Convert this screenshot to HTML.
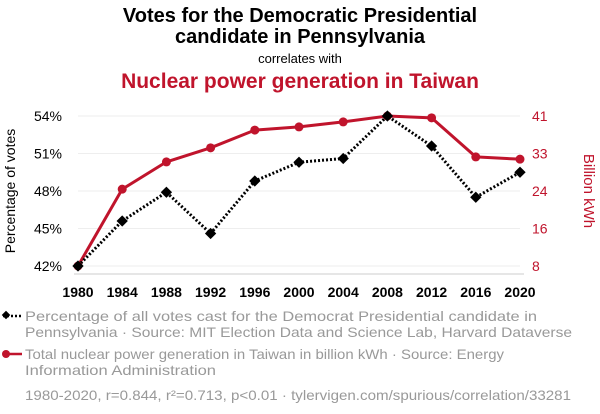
<!DOCTYPE html>
<html><head><meta charset="utf-8"><style>
body{margin:0;background:#fff;font-family:"Liberation Sans",sans-serif;}
svg{display:block}
</style></head><body>
<svg id="c" width="600" height="414" font-family="Liberation Sans, sans-serif">
<text x="300" y="22" text-anchor="middle" font-size="20" font-weight="bold">Votes for the Democratic Presidential</text>
<text x="300" y="43" text-anchor="middle" font-size="20" font-weight="bold">candidate in Pennsylvania</text>
<text x="300" y="63" text-anchor="middle" font-size="13">correlates with</text>
<text x="300" y="88" text-anchor="middle" font-size="21" font-weight="bold" fill="#c0142c">Nuclear power generation in Taiwan</text>
<text transform="translate(15,191) rotate(-90)" text-anchor="middle" font-size="14">Percentage of votes</text>
<text transform="translate(584,191) rotate(90)" text-anchor="middle" font-size="15" fill="#c0142c">Billion kWh</text>
<g id="grid"></g><g id="axes"></g><g id="marks"></g>
<g>
<line x1="3" y1="316" x2="22" y2="316" stroke="#000" stroke-width="2.5" stroke-dasharray="2,2"/>
<rect x="3" y="312" width="6" height="6" transform="rotate(45 6 315)" fill="#000"/>
<text x="25" y="321" font-size="14" fill="#999" textLength="512" lengthAdjust="spacingAndGlyphs">Percentage of all votes cast for the Democrat Presidential candidate in</text>
<text x="25" y="337" font-size="14" fill="#999" textLength="547" lengthAdjust="spacingAndGlyphs">Pennsylvania · Source: MIT Election Data and Science Lab, Harvard Dataverse</text>
</g>
<g>
<line x1="3" y1="354" x2="22" y2="354" stroke="#c0142c" stroke-width="2.5"/>
<circle cx="6" cy="354" r="4" fill="#c0142c"/>
<text x="25" y="359" font-size="14" fill="#999" textLength="479" lengthAdjust="spacingAndGlyphs">Total nuclear power generation in Taiwan in billion kWh · Source: Energy</text>
<text x="25" y="375" font-size="14" fill="#999" textLength="191" lengthAdjust="spacingAndGlyphs">Information Administration</text>
</g>
<text x="25" y="400" font-size="14" fill="#999" textLength="546" lengthAdjust="spacingAndGlyphs">1980-2020, r=0.844, r²=0.713, p&lt;0.01 · tylervigen.com/spurious/correlation/33281</text>
</svg>
<script>
const years=[1980,1984,1988,1992,1996,2000,2004,2008,2012,2016,2020];
const votes=[42.0,45.6,47.9,44.6,48.8,50.3,50.6,54.0,51.6,47.5,49.5];
const nuclear=[8.0,24.9,30.9,34.0,37.9,38.6,39.7,41.0,40.6,32.0,31.5];
const leftTicks=[42,45,48,51,54];
const rightTickLabels=["8","16","24","33","41"];
const NS="http://www.w3.org/2000/svg";
const X0=78,X1=520,Y0=266,Y1=116;
const x=v=>X0+(v-1980)/40*(X1-X0);
const yl=v=>Y0-(v-42)/12*(Y0-Y1);
const yr=v=>Y0-(v-8)/33*(Y0-Y1);
function el(t,a,p){const e=document.createElementNS(NS,t);for(const k in a)e.setAttribute(k,a[k]);document.getElementById(p).appendChild(e);return e;}
leftTicks.forEach((t,i)=>{
 const g=el('line',{x1:X0,x2:X1,y1:yl(t),y2:yl(t),stroke:'#eee'},'grid');
 
 
 const a=el('text',{x:62,y:yl(t)+5,'text-anchor':'end','font-size':14},'axes');a.textContent=t+'%';
 
 
 const b=el('text',{x:532,y:yl(t)+5,'font-size':14,fill:'#c0142c'},'axes');b.textContent=rightTickLabels[i];
 
 
});
const ax=el('line',{x1:X0-4,x2:X1+4,y1:274,y2:274,stroke:'#ccc'},'axes');


years.forEach(yv=>{
 const t=el('text',{x:x(yv),y:297,'text-anchor':'middle','font-size':14,'font-weight':'bold'},'axes');t.textContent=yv;
 
 
});
const rl=el('polyline',{points:years.map((v,i)=>x(v)+','+yr(nuclear[i])).join(' '),fill:'none',stroke:'#c0142c','stroke-width':3,'stroke-linejoin':'round'},'marks');


const bl=el('polyline',{points:years.map((v,i)=>x(v)+','+yl(votes[i])).join(' '),fill:'none',stroke:'#000','stroke-width':3,'stroke-dasharray':'2,2'},'marks');


years.forEach((v,i)=>{
 const c=el('circle',{cx:x(v),cy:yr(nuclear[i]),r:4.5,fill:'#c0142c'},'marks');
 
 
 const cx=x(v),cy=yl(votes[i]);
 const d=el('rect',{x:cx-4,y:cy-4,width:8,height:8,transform:`rotate(45 ${cx} ${cy})`,fill:'#000'},'marks');
 
 
});
</script>
</body></html>
